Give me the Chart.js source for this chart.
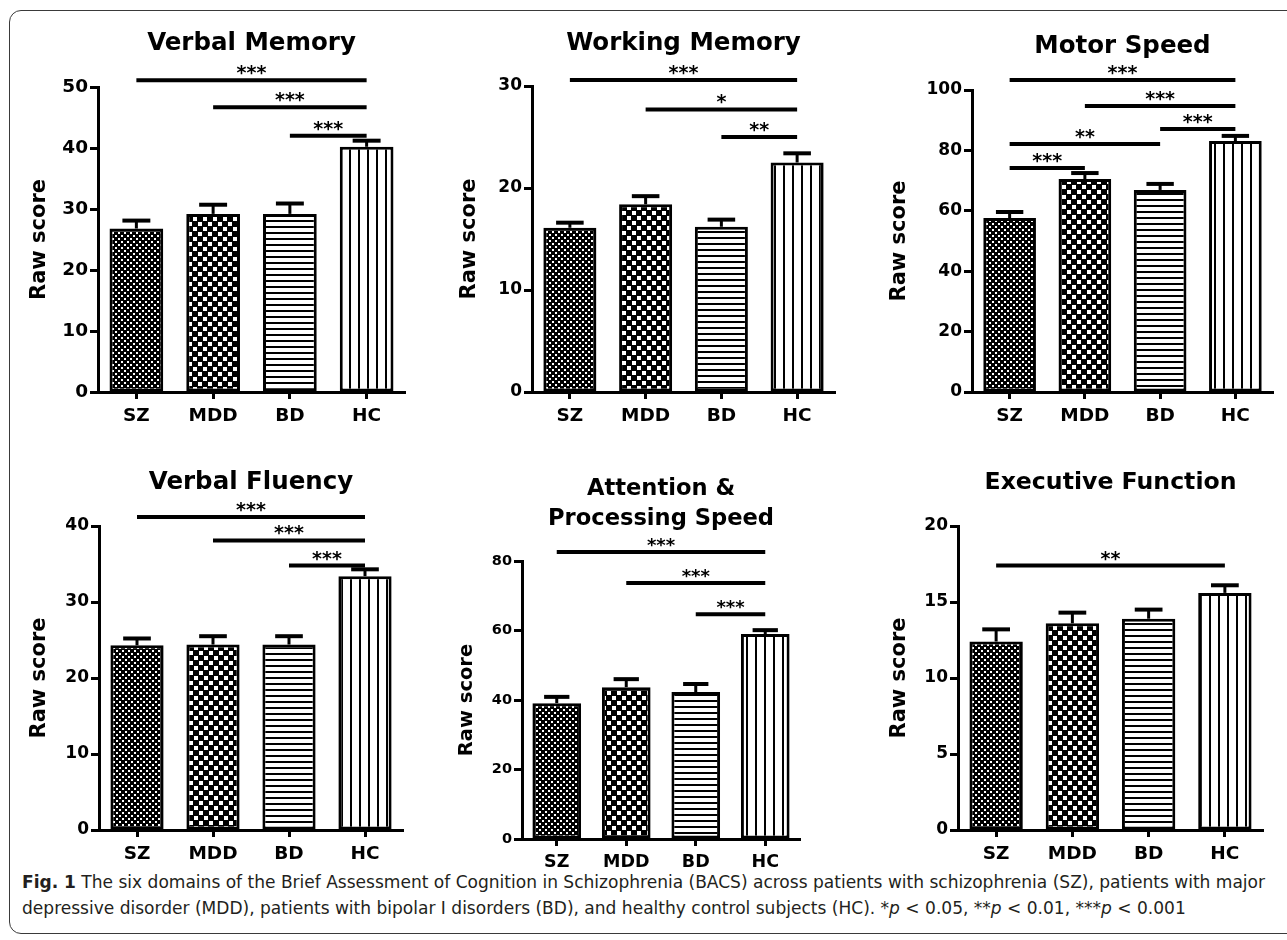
<!DOCTYPE html>
<html>
<head>
<meta charset="utf-8">
<script src="https://cdn.jsdelivr.net/npm/chart.js@4.4.1/dist/chart.umd.min.js"></script>
<style>
    body { margin: 0; width: 1287px; height: 940px; overflow: hidden; background: #fff; position: relative; }
    #frame { position: absolute; left: 9px; top: 10px; width: 1300px; height: 924px; border: 1.5px solid #3a3a3a; border-radius: 12px; box-sizing: border-box; }
    canvas { position: absolute; }
    #caption { position: absolute; left: 22px; top: 869px; color: #231f20; font-family: 'Liberation Sans Narrow', 'DejaVu Sans Condensed', 'Liberation Sans', sans-serif; font-size: 17px; line-height: 26px; transform-origin: 0 0; white-space: nowrap; }
</style>
</head>
<body>
<div id="frame"></div>
<div id="caption">
    <div><span id="capLine1"><b>Fig. 1</b> The six domains of the Brief Assessment of Cognition in Schizophrenia (BACS) across patients with schizophrenia (SZ), patients with major</span></div>
    <div><span>depressive disorder (MDD), patients with bipolar I disorders (BD), and healthy control subjects (HC). *<i>p</i> &lt; 0.05, **<i>p</i> &lt; 0.01, ***<i>p</i> &lt; 0.001</span></div>
</div>
<script>
const groups = ['SZ', 'MDD', 'BD', 'HC'];

// means and SEM (upper whisker)
const verbalMemory = [26.8, 29.2, 29.2, 40.2];
const verbalMemorySem = [1.3, 1.5, 1.7, 1.0];
const verbalMemoryAxis = [0, 50, 10];
const verbalMemorySig = [[0, 3, '***'], [1, 3, '***'], [2, 3, '***']];
const verbalMemorySigLevel = [51.1, 46.7, 42.0];

const workingMemory = [16.1, 18.4, 16.2, 22.5];
const workingMemorySem = [0.5, 0.8, 0.7, 0.9];
const workingMemoryAxis = [0, 30, 10];
const workingMemorySig = [[0, 3, '***'], [1, 3, '*'], [2, 3, '**']];
const workingMemorySigLevel = [30.6, 27.7, 25.0];

const motorSpeed = [57.6, 70.5, 66.9, 83.1];
const motorSpeedSem = [2.0, 2.0, 2.0, 1.7];
const motorSpeedAxis = [0, 100, 20];
const motorSpeedSig = [[0, 3, '***'], [1, 3, '***'], [2, 3, '***'], [0, 2, '**'], [0, 1, '***']];
const motorSpeedSigLevel = [103.3, 94.7, 87.1, 82.1, 74.2];

const verbalFluency = [24.3, 24.4, 24.4, 33.4];
const verbalFluencySem = [0.9, 1.1, 1.1, 0.9];
const verbalFluencyAxis = [0, 40, 10];
const verbalFluencySig = [[0, 3, '***'], [1, 3, '***'], [2, 3, '***']];
const verbalFluencySigLevel = [41.2, 38.1, 34.8];

const attention = [39.1, 43.7, 42.3, 59.0];
const attentionSem = [1.8, 2.3, 2.3, 1.1];
const attentionAxis = [0, 80, 20];
const attentionSig = [[0, 3, '***'], [1, 3, '***'], [2, 3, '***']];
const attentionSigLevel = [82.6, 73.7, 64.7];

const executive = [12.4, 13.6, 13.9, 15.6];
const executiveSem = [0.8, 0.7, 0.6, 0.5];
const executiveAxis = [0, 20, 5];
const executiveSig = [[0, 3, '**']];
const executiveSigLevel = [17.4];

Chart.defaults.font.family = "'DejaVu Sans', sans-serif";
Chart.defaults.font.weight = 'bold';
Chart.defaults.color = '#000';

// fill patterns, one per group
function makePatterns(ctx) {
    function tile(w, h, draw) {
        const c = document.createElement('canvas');
        c.width = w; c.height = h;
        draw(c.getContext('2d'), w, h);
        return ctx.createPattern(c, 'repeat');
    }
    return [
        tile(6, 6, (g) => { g.fillStyle = '#000'; g.fillRect(0, 0, 6, 6); g.fillStyle = '#fff'; g.fillRect(0, 0, 2, 2); g.fillRect(3, 3, 2, 2); }),
        tile(10, 10, (g) => { g.fillStyle = '#000'; g.fillRect(0, 0, 10, 10); g.fillStyle = '#fff'; g.fillRect(0, 0, 4, 4); g.fillRect(5, 5, 4, 4); }),
        tile(6, 6, (g) => { g.fillStyle = '#fff'; g.fillRect(0, 0, 6, 6); g.fillStyle = '#000'; g.fillRect(0, 0, 6, 2); }),
        tile(9, 9, (g) => { g.fillStyle = '#fff'; g.fillRect(0, 0, 9, 9); g.fillStyle = '#000'; g.fillRect(0, 0, 2, 9); })
    ];
}

// title, y label, error bars and significance lines
function decor(p) {
    return {
        id: 'decor',
        afterDatasetsDraw(chart) {
            const ctx = chart.ctx;
            const area = chart.chartArea;
            const xs = chart.scales.x, ys = chart.scales.y;
            const meta = chart.getDatasetMeta(0);
            ctx.save();
            ctx.strokeStyle = '#000';
            ctx.fillStyle = '#000';

            meta.data.forEach((bar, i) => {
                const base = ys.getPixelForValue(p.values[i]);
                const top = ys.getPixelForValue(p.values[i] + p.sem[i]);
                const half = bar.width * 0.26;
                ctx.lineWidth = 3;
                ctx.beginPath(); ctx.moveTo(bar.x, base); ctx.lineTo(bar.x, top); ctx.stroke();
                ctx.lineWidth = 4;
                ctx.beginPath(); ctx.moveTo(bar.x - half, top); ctx.lineTo(bar.x + half, top); ctx.stroke();
            });

            ctx.font = `bold ${p.starSize}px 'DejaVu Sans'`;
            ctx.textAlign = 'center';
            ctx.textBaseline = 'alphabetic';
            p.sig.forEach((s, i) => {
                const y = ys.getPixelForValue(p.sigLevel[i]);
                const x1 = xs.getPixelForValue(s[0]), x2 = xs.getPixelForValue(s[1]);
                ctx.lineWidth = 4;
                ctx.beginPath(); ctx.moveTo(x1, y); ctx.lineTo(x2, y); ctx.stroke();
                ctx.fillText(s[2], (x1 + x2) / 2, y - 1);
            });

            const cx = (area.left + area.right) / 2;
            ctx.font = `bold ${p.titleSize}px 'DejaVu Sans'`;
            p.title.forEach((line, i) => {
                ctx.fillText(line, cx, area.top - p.titleGap + (i - p.title.length + 1) * 30);
            });

            ctx.translate(area.left - p.labelGap, (area.top + area.bottom) / 2);
            ctx.rotate(-Math.PI / 2);
            ctx.font = `bold ${p.labelSize}px 'DejaVu Sans'`;
            ctx.textBaseline = 'middle';
            ctx.fillText('Raw score', 0, 0);
            ctx.restore();
        }
    };
}

function drawPanel(p) {
    const canvas = document.createElement('canvas');
    const left = p.area[0] - 100, top = p.area[1] - 95;
    const width = p.area[2] - p.area[0] + 115, height = p.area[3] - p.area[1] + 140;
    canvas.width = width; canvas.height = height;
    canvas.style.left = left + 'px';
    canvas.style.top = top + 'px';
    document.body.appendChild(canvas);
    const ctx = canvas.getContext('2d');

    new Chart(ctx, {
        type: 'bar',
        data: {
            labels: groups,
            datasets: [{
                data: p.values,
                backgroundColor: makePatterns(ctx),
                borderColor: '#000',
                borderWidth: 3,
                borderSkipped: false,
                barPercentage: 0.7,
                categoryPercentage: 1
            }]
        },
        options: {
            responsive: false,
            animation: false,
            layout: { padding: { left: 40, right: 15, top: 95, bottom: 5 } },
            plugins: { legend: { display: false }, tooltip: { enabled: false } },
            scales: {
                x: {
                    afterFit: (s) => { s.height = 40; },
                    border: { color: '#000', width: 3 },
                    grid: { offset: false, drawOnChartArea: false, tickLength: 7, tickWidth: 3, tickColor: '#000' },
                    ticks: { font: { size: p.xSize }, padding: 6, maxRotation: 0, autoSkip: false }
                },
                y: {
                    min: p.axis[0],
                    max: p.axis[1],
                    afterFit: (s) => { s.width = 60; },
                    border: { color: '#000', width: 3 },
                    grid: { drawOnChartArea: false, tickLength: 8, tickWidth: 3, tickColor: '#000' },
                    ticks: { stepSize: p.axis[2], font: { size: p.ySize }, padding: 2 }
                }
            }
        },
        plugins: [decor(p)]
    });
}

const panels = [
    { title: ['Verbal Memory'], values: verbalMemory, sem: verbalMemorySem, axis: verbalMemoryAxis, sig: verbalMemorySig, sigLevel: verbalMemorySigLevel,
      area: [98, 87, 405, 392], titleSize: 24.5, titleGap: 37, labelSize: 21, labelGap: 58, xSize: 18.5, ySize: 18.5, starSize: 19 },
    { title: ['Working Memory'], values: workingMemory, sem: workingMemorySem, axis: workingMemoryAxis, sig: workingMemorySig, sigLevel: workingMemorySigLevel,
      area: [532, 86, 835, 392], titleSize: 24.5, titleGap: 36, labelSize: 21, labelGap: 62, xSize: 18.5, ySize: 17, starSize: 19 },
    { title: ['Motor Speed'], values: motorSpeed, sem: motorSpeedSem, axis: motorSpeedAxis, sig: motorSpeedSig, sigLevel: motorSpeedSigLevel,
      area: [972, 90, 1273, 392], titleSize: 24.5, titleGap: 37, labelSize: 21, labelGap: 72, xSize: 18.5, ySize: 17, starSize: 19 },
    { title: ['Verbal Fluency'], values: verbalFluency, sem: verbalFluencySem, axis: verbalFluencyAxis, sig: verbalFluencySig, sigLevel: verbalFluencySigLevel,
      area: [99, 526, 403, 830], titleSize: 24.5, titleGap: 37, labelSize: 21, labelGap: 59, xSize: 18.5, ySize: 17, starSize: 19 },
    { title: ['Attention &', 'Processing Speed'], values: attention, sem: attentionSem, axis: attentionAxis, sig: attentionSig, sigLevel: attentionSigLevel,
      area: [522, 561, 800, 839], titleSize: 22.6, titleGap: 36, labelSize: 19.5, labelGap: 55, xSize: 17.5, ySize: 14.5, starSize: 18 },
    { title: ['Executive Function'], values: executive, sem: executiveSem, axis: executiveAxis, sig: executiveSig, sigLevel: executiveSigLevel,
      area: [958, 526, 1263, 830], titleSize: 23.6, titleGap: 37, labelSize: 21, labelGap: 58, xSize: 18.5, ySize: 17, starSize: 19 }
];

panels.forEach(drawPanel);

// fit the caption to the printed line width
const capLine1 = document.getElementById('capLine1');
const k = 1243 / capLine1.getBoundingClientRect().width;
document.getElementById('caption').style.transform = `scaleX(${k})`;
</script>
</body>
</html>
